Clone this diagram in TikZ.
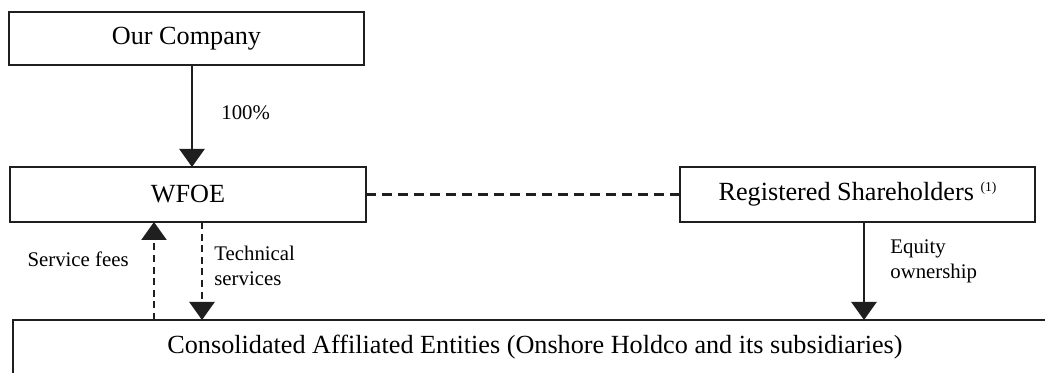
\documentclass[tikz,border=0pt]{standalone}
\usepackage{fontspec}
\setmainfont{Liberation Serif}
\usetikzlibrary{arrows.meta}
\tikzset{
  entity/.style={draw=black!88, line width=1.1pt, inner sep=0pt, outer sep=0pt,
    font=\fontsize{13.1pt}{15pt}\selectfont},
  arr/.style={line width=1.2pt, draw=black!88, -{Triangle[width=12.5pt,length=9pt]}},
  darr/.style={arr, dash pattern=on 3.5pt off 2.3pt},
  link/.style={line width=1.1pt, draw=black!88, dash pattern=on 5pt off 3pt},
  lbl/.style={inner sep=0pt, font=\fontsize{10.4pt}{12.5pt}\selectfont, align=left}
}
\begin{document}
\begin{tikzpicture}[x=0.5pt,y=-0.5pt]
\useasboundingbox (0,0) rectangle (1045,373);
\node[entity, minimum width=177.5pt, minimum height=26.5pt] (oc) at (186.5,38.5) {Our Company};
\node[entity, minimum width=178pt, minimum height=27.5pt] (wf) at (188,194.5) {WFOE};
\node[entity, minimum width=177.5pt, minimum height=27.5pt] (rs) at (857.5,194.5)
  {Registered Shareholders \raisebox{0.34em}{\fontsize{6.8pt}{7pt}\selectfont (1)}};
\node[entity, minimum width=522pt, minimum height=27pt] (ce) at (535,347)
  {Consolidated Affiliated Entities (Onshore Holdco and its subsidiaries)};
\coordinate (xa) at (192,0);
\coordinate (xs) at (154,0);
\coordinate (xt) at (202,0);
\coordinate (xe) at (864,0);
\draw[arr] (oc.south -| xa) -- (wf.north -| xa);
\draw[darr] (ce.north -| xs) -- (wf.south -| xs);
\draw[darr] (wf.south -| xt) -- (ce.north -| xt);
\draw[arr] (rs.south -| xe) -- (ce.north -| xe);
\draw[link] (wf.east) -- (rs.west);
\node[lbl, anchor=west] (l100) at (221,113) {100\%};
\node[lbl, anchor=east] (lsf) at (129,259) {Service fees};
\node[lbl, anchor=west] (lts) at (214,266) {Technical\\services};
\node[lbl, anchor=west] (leq) at (890,261.5) {Equity\\ownership};
\end{tikzpicture}
\end{document}
